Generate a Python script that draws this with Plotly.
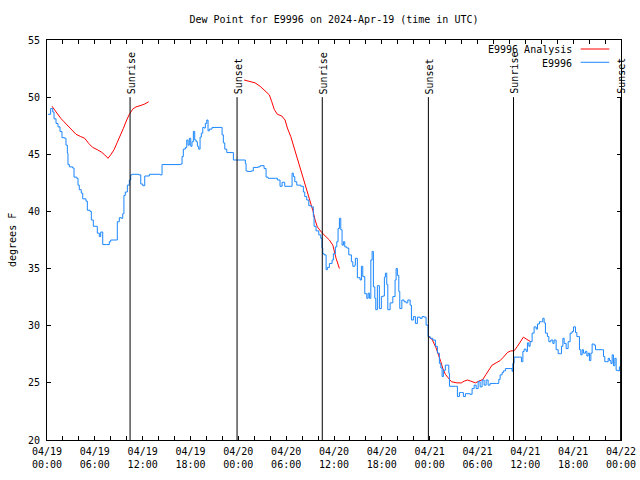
import pandas as pd
import plotly.graph_objects as go

# ---- data (hours since 2024-04-19 00:00 UTC) ----
obs_hours = [0.13, 0.46, 0.72, 0.88, 1.13, 1.38, 1.63, 1.88, 2.22, 2.38, 2.55, 2.63, 2.80, 3.22, 3.39, 3.73,
             3.89, 4.05, 4.30, 4.48, 4.89, 5.06, 5.40, 5.56, 5.81, 6.15, 6.31, 6.56, 6.74, 6.99, 7.49, 7.82,
             7.99, 8.66, 8.82, 9.07, 9.32, 9.50, 9.65, 9.82, 10.08, 10.33, 10.50, 10.66, 11.51, 11.76, 12.01,
             12.26, 12.84, 14.18, 14.43, 16.78, 16.94, 17.10, 17.35, 17.53, 17.69, 17.85, 18.03, 18.19, 18.36,
             18.53, 18.70, 18.86, 19.03, 19.20, 19.36, 19.54, 19.70, 19.86, 20.04, 20.20, 20.36, 20.70, 21.71,
             21.96, 22.12, 22.30, 22.55, 23.21, 23.38, 24.72, 24.88, 24.97, 25.13, 25.63, 25.88, 26.47, 26.73,
             27.23, 27.48, 27.73, 28.64, 28.90, 29.23, 29.49, 29.82, 30.58, 30.74, 30.90, 31.08, 31.33, 31.83,
             32.16, 32.33, 32.58, 32.84, 33.16, 33.41, 33.50, 33.75, 34.09, 34.34, 34.50, 34.59, 34.76, 35.01,
             35.17, 35.42, 35.76, 35.92, 36.17, 36.35, 36.51, 36.68, 36.85, 37.01, 37.18, 37.35, 37.60, 37.85,
             38.18, 38.36, 38.61, 38.68, 38.93, 39.27, 39.44, 39.61, 39.86, 40.11, 40.28, 40.44, 40.62, 40.78,
             40.94, 41.12, 41.24, 41.44, 41.69, 41.94, 42.12, 42.32, 42.45, 42.62, 42.75, 43.04, 43.38, 43.66,
             43.79, 43.95, 44.13, 44.25, 44.51, 44.79, 45.04, 45.26, 45.55, 45.71, 45.96, 46.21, 46.46, 46.80,
             47.05, 47.30, 47.55, 47.80, 48.06, 48.39, 48.72, 48.97, 49.22, 49.40, 49.56, 49.72, 49.97, 50.15,
             50.40, 50.48, 51.23, 51.48, 51.73, 51.98, 52.23, 52.48, 53.07, 53.32, 53.58, 53.83, 54.08, 54.33,
             54.58, 54.83, 55.08, 55.33, 55.58, 56.42, 56.67, 56.84, 57.09, 57.25, 57.50, 58.09, 58.34, 58.43,
             58.59, 59.26, 59.51, 59.69, 59.85, 60.10, 60.26, 60.44, 60.60, 60.85, 61.10, 61.36, 61.52, 61.77,
             62.02, 62.19, 62.36, 62.52, 62.77, 62.95, 63.20, 63.45, 63.61, 63.86, 64.12, 64.37, 64.53, 64.71,
             64.87, 65.12, 65.37, 65.62, 65.87, 66.04, 66.29, 66.46, 66.62, 66.79, 66.96, 67.13, 67.29, 67.54,
             67.72, 67.88, 68.04, 68.22, 68.38, 68.63, 68.80, 69.64, 69.80, 69.97, 70.22, 70.39, 70.55, 70.73,
             70.89, 71.05, 71.23, 71.39, 71.64, 71.80, 71.98]
obs_values = [48.5, 49.0, 48.7, 48.1, 47.7, 47.4, 47.0, 46.45, 46.4, 45.8, 45.1, 44.1, 43.9, 43.8, 43.0, 42.9,
              42.3, 41.9, 41.6, 41.1, 40.9, 40.1, 40.0, 39.25, 38.7, 38.7, 38.1, 37.8, 38.2, 37.1, 37.1, 37.35,
              37.5, 37.5, 39.1, 39.45, 39.4, 39.8, 41.4, 41.7, 42.3, 42.75, 43.2, 43.25, 43.2, 42.4, 42.25,
              43.1, 43.25, 43.2, 44.1, 44.15, 44.8, 45.45, 45.6, 46.25, 45.8, 46.4, 45.7, 46.1, 47.0,
              46.25, 46.1, 45.7, 45.45, 46.5, 46.85, 47.35, 47.3, 47.7, 48.0, 47.05, 47.2, 47.35, 47.35,
              46.7, 46.0, 45.45, 45.15, 45.15, 44.5, 44.5, 44.2, 43.55, 43.5, 43.55, 43.85, 43.9, 44.0,
              43.75, 43.0, 42.9, 42.9, 42.75, 42.2, 42.55, 42.2, 42.2, 43.35, 43.05, 42.6, 42.3, 42.2,
              41.7, 41.3, 41.0, 40.5, 40.4, 39.55, 38.7, 38.3, 37.95, 37.65, 36.8, 36.3, 36.2, 34.9,
              35.1, 35.45, 35.75, 36.3, 36.9, 37.35, 38.5, 39.4, 38.4, 37.05, 37.35, 36.9, 36.8, 36.2,
              35.6, 35.2, 35.3, 35.9, 34.2, 34.0, 35.2, 34.3, 32.8, 32.4, 32.85, 32.4, 35.75, 36.5,
              33.4, 32.4, 31.4, 33.5, 31.5, 32.55, 32.6, 34.25, 34.6, 33.6, 31.4, 32.0, 32.55, 34.0,
              35.0, 34.4, 33.0, 31.5, 32.25, 32.1, 32.0, 32.25, 31.8, 30.5, 30.8, 30.2, 30.75, 30.65,
              30.8, 30.75, 30.05, 29.05, 28.9, 28.75, 28.2, 27.6, 26.7, 26.3, 25.55, 26.1, 26.55, 26.55,
              25.85, 24.7, 24.7, 23.8, 24.15, 24.15, 23.8, 24.05, 24.0, 24.5, 24.8, 24.5, 25.1, 24.65,
              25.25, 24.8, 25.25, 24.8, 24.95, 24.95, 25.3, 25.7, 25.9, 26.05, 26.25, 26.25, 26.0, 26.7,
              27.25, 27.25, 26.85, 27.75, 27.95, 27.75, 28.5, 28.2, 28.6, 29.35, 29.9, 29.7, 30.15, 30.35,
              30.35, 30.65, 30.25, 29.35, 29.05, 28.6, 28.75, 28.45, 28.75, 27.9, 27.55, 27.55, 28.2, 28.9,
              28.45, 28.0, 28.6, 29.35, 29.5, 29.9, 29.4, 29.05, 29.05, 27.9, 27.45, 27.9, 27.6, 27.75,
              27.35, 27.6, 26.95, 27.6, 28.4, 28.3, 27.9, 27.9, 27.3, 26.85, 26.85, 27.15, 26.95, 26.7,
              27.45, 26.5, 27.15, 26.1, 26.05, 26.4, 26.4]

ana1_hours = [0.63, 0.88, 1.29, 1.72, 2.13, 2.63, 3.14, 3.64, 4.23, 4.73, 5.23, 5.73, 6.31, 6.81, 7.24,
              7.65, 7.99, 8.41, 8.82, 9.25, 9.57, 10.0, 10.33, 10.75, 11.17, 11.67, 12.26, 12.76]
ana1_values = [49.2, 48.95, 48.6, 48.15, 47.85, 47.5, 47.1, 46.75, 46.55, 46.4, 45.95, 45.6, 45.4, 45.2, 44.95,
               44.65, 44.95, 45.4, 46.05, 46.7, 47.25, 48.0, 48.5, 48.95, 49.15, 49.25, 49.4, 49.6]
ana2_hours = [24.72, 25.47, 26.10, 26.73, 27.35, 27.89, 28.19, 28.52, 28.90, 29.45, 29.86, 30.15, 30.58, 30.99,
              31.33, 31.74, 32.16, 32.58, 33.0, 33.34, 33.63, 33.91, 34.47, 34.88, 35.42, 35.85, 36.01, 36.26, 36.68]
ana2_values = [51.5, 51.4, 51.25, 50.95, 50.55, 50.2, 49.6, 48.9, 48.5, 48.35, 48.0, 47.3, 46.55, 45.6,
               44.8, 43.8, 42.75, 41.7, 40.85, 40.1, 39.25, 38.65, 38.15, 37.85, 37.5, 37.05, 36.5, 35.9, 35.0]
ana3_hours = [47.93, 48.31, 48.81, 49.15, 49.40, 49.65, 49.97, 50.31, 50.73, 51.41, 51.98, 52.32, 52.74, 53.16,
              53.74, 54.17, 54.67, 55.08, 55.50, 55.83, 56.34, 56.84, 57.25, 57.75, 58.18, 58.59, 59.01, 59.44,
              59.76, 60.19, 60.69]
ana3_values = [29.0, 28.8, 28.05, 27.45, 26.85, 26.25, 25.75, 25.45, 25.1, 25.0, 25.0, 25.15, 25.25, 25.15,
               25.0, 25.15, 25.3, 25.75, 26.25, 26.55, 26.75, 26.95, 27.25, 27.65, 27.8, 27.8, 28.2, 28.6,
               29.0, 28.8, 28.6]

sun_hours = [10.42, 23.84, 34.53, 47.84, 58.52, 71.95]
sun_labels = ["Sunrise", "Sunset", "Sunrise", "Sunset", "Sunrise", "Sunset"]
sun_line_bottom = 20
sun_line_top = 50

title_text = "Dew Point for E9996 on 2024-Apr-19 (time in UTC)"
y_title = "degrees F"
series_names = ["E9996 Analysis", "E9996"]
series_colors = ["#ff0000", "#1a86ff"]

base = pd.Timestamp("2024-04-19 00:00")
def to_time(hours):
    return [base + pd.Timedelta(hours=h) for h in hours]

FONT = "DejaVu Sans Mono"

fig = go.Figure()
ana_x = to_time(ana1_hours) + [None] + to_time(ana2_hours) + [None] + to_time(ana3_hours)
ana_y = ana1_values + [None] + ana2_values + [None] + ana3_values
fig.add_trace(go.Scatter(x=ana_x, y=ana_y, mode="lines", name=series_names[0],
                         line=dict(color=series_colors[0], width=1), connectgaps=False,
                         showlegend=False))
fig.add_trace(go.Scatter(x=to_time(obs_hours), y=obs_values, mode="lines", name=series_names[1],
                         line=dict(color=series_colors[1], width=1, shape="hv"), showlegend=False))

shapes = []
annotations = []
for h, lab in zip(sun_hours, sun_labels):
    t = base + pd.Timedelta(hours=h)
    shapes.append(dict(type="line", xref="x", yref="y", x0=t, x1=t, y0=sun_line_bottom, y1=sun_line_top,
                       line=dict(color="black", width=1)))
    annotations.append(dict(x=t, y=sun_line_top, xref="x", yref="y", text=lab, textangle=-90,
                            showarrow=False, xanchor="center", yanchor="bottom", yshift=1, xshift=1,
                            font=dict(family=FONT, size=10, color="black")))

leg_y = [0.9775, 0.9443]
for name, col, yy in zip(series_names, series_colors, leg_y):
    annotations.append(dict(x=0.9187, y=yy, xref="paper", yref="paper", text=name, showarrow=False,
                            xanchor="right", yanchor="middle", yshift=-1,
                            font=dict(family=FONT, size=10, color="black")))
    shapes.append(dict(type="line", xref="paper", yref="paper", x0=0.9298, x1=0.9796, y0=yy, y1=yy,
                       line=dict(color=col, width=1)))

annotations.append(dict(x=-0.061, y=0.5, xref="paper", yref="paper", text=y_title, textangle=-90,
                        showarrow=False, xanchor="center", yanchor="middle",
                        font=dict(family=FONT, size=10, color="black")))

fig.update_layout(
    width=640, height=480,
    margin=dict(l=47, r=19, t=40, b=40, pad=0, autoexpand=False),
    paper_bgcolor="white", plot_bgcolor="white",
    title=dict(text=title_text, x=0.5, xref="paper", y=1 - 19 / 480, yref="container",
               xanchor="center", yanchor="middle", font=dict(family=FONT, size=10, color="black")),
    font=dict(family=FONT, size=10, color="black"),
    shapes=shapes, annotations=annotations, showlegend=False,
)
fig.update_xaxes(
    type="date", range=[base, base + pd.Timedelta(hours=72)], automargin=False,
    dtick=6 * 3600 * 1000, tick0=base, tickformat="%m/%d<br>%H:%M",
    ticks="inside", ticklen=4, tickcolor="black", showgrid=False, zeroline=False,
    showline=True, linecolor="black", linewidth=1, mirror="ticks", ticklabelstandoff=2,
    minor=dict(dtick=2 * 3600 * 1000, ticks="inside", ticklen=4, tickcolor="black", showgrid=False),
    tickfont=dict(family=FONT, size=10, color="black"),
)
fig.update_yaxes(
    range=[20, 55], dtick=5, tick0=20, automargin=False,
    ticks="inside", ticklen=4, tickcolor="black", showgrid=False, zeroline=False,
    showline=True, linecolor="black", linewidth=1, mirror="ticks", ticklabelstandoff=4,
    tickfont=dict(family=FONT, size=10, color="black"),
)

fig.write_html("out.html", post_script="document.body.style.margin='0';",
               config={"displayModeBar": False})
